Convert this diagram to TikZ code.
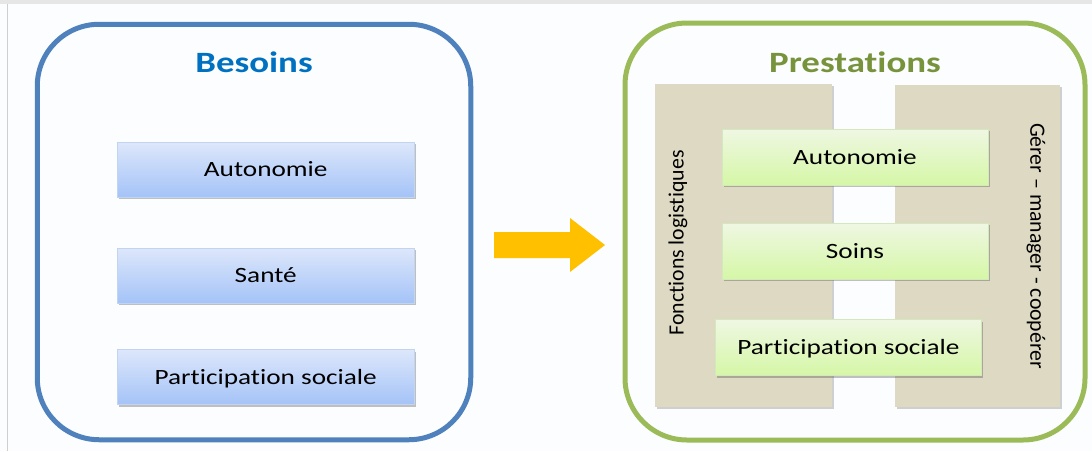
\documentclass[tikz,border=0pt]{standalone}
\usepackage{fontspec}
\usepackage{graphicx}
\setmainfont{Carlito}[Ligatures={NoCommon}]
\usetikzlibrary{shadows}
\definecolor{bgc}{HTML}{FCFDFE}
\definecolor{edgegray}{HTML}{E6E6E6}
\definecolor{edgeline}{HTML}{CFCFCF}
\definecolor{blueF}{HTML}{4F81BD}
\definecolor{greenF}{HTML}{9BBB59}
\definecolor{titleB}{HTML}{0070C0}
\definecolor{titleG}{HTML}{77933C}
\definecolor{tan}{HTML}{DDD9C3}
\definecolor{arrowc}{HTML}{FFC000}
\definecolor{bTop}{HTML}{DDE7FB}
\definecolor{bBot}{HTML}{A4C3F7}
\definecolor{bEdge}{HTML}{C3D4F2}
\definecolor{gTop}{HTML}{EFF7E3}
\definecolor{gBot}{HTML}{D5F7A6}
\definecolor{gEdge}{HTML}{D3E8BC}
\newcommand\sx[1]{\scalebox{1.25}[1]{#1}}
\begin{document}
\begin{tikzpicture}[x=1pt,y=-1pt,
  frame/.style={draw, line width=5pt, rounded corners=62pt, inner sep=0pt},
  ttl/.style={font=\bfseries\fontsize{29.5}{34}\selectfont, text height=19pt, text depth=0pt, inner sep=0pt},
  lbl/.style={font=\fontsize{21.8}{26}\selectfont, text=black, text height=14pt, text depth=0pt, inner sep=0pt},
  vlbl/.style={font=\fontsize{21.8}{26}\selectfont, text=black, inner sep=0pt},
  bbox/.style={lbl, draw=bEdge, line width=0.6pt, top color=bTop, bottom color=bBot,
    minimum width=296.5pt, minimum height=55pt,
    drop shadow={shadow xshift=1.5pt, shadow yshift=-2pt, opacity=0.35, fill=black!70}},
  gbox/.style={lbl, draw=gEdge, line width=0.6pt, top color=gTop, bottom color=gBot,
    minimum width=266pt, minimum height=56pt,
    drop shadow={shadow xshift=1.5pt, shadow yshift=-2pt, opacity=0.35, fill=black!70}},
  col/.style={fill=tan, inner sep=0pt,
    drop shadow={shadow xshift=1.5pt, shadow yshift=-2pt, opacity=0.3, fill=black!60}}
]
\useasboundingbox (0,0) rectangle (1092,451);
% background
\fill[bgc] (0,0) rectangle (1092,451);
\fill[edgegray] (0,0) rectangle (1092,4);
\draw[edgeline, line width=1pt] (7,4) -- (7,451);

% left frame
\node[frame, draw=blueF, minimum width=433.5pt, minimum height=415.5pt] (besoinsF) at (254,232) {};
\node[ttl, text=titleB] (besoinsT) at (254,63) {\sx{Besoins}};
\node[bbox] (bAuto) at (265.75,169.5) {\sx{Autonomie}};
\node[bbox] (bSante) at (265.75,275.5) {\sx{Santé}};
\node[bbox] (bPart) at (265.75,377) {\sx{Participation sociale}};

% arrow
\coordinate (arrS) at (494,245);
\fill[arrowc] (arrS) ++(0,-13) -- ++(76,0) -- ++(0,-14) -- (605,245) -- (570,272) -- (570,258) -- (494,258) -- cycle;

% right frame
\node[frame, draw=greenF, minimum width=460pt, minimum height=417pt] (prestF) at (855,231.5) {};
\node[ttl, text=titleG] (prestT) at (855,62.5) {\sx{Prestations}};
\node[col, minimum width=177pt, minimum height=323pt] (colL) at (743.5,245.5) {};
\node[col, minimum width=165pt, minimum height=322pt] (colR) at (977.5,246) {};
\node[vlbl, rotate=90] (logi) at (678,243) {Fonctions logistiques};
\node[vlbl, rotate=-90] (gerer) at (1036,246) {Gérer – manager - coopérer};
\node[gbox] (gAuto) at (855,157) {\sx{Autonomie}};
\node[gbox] (gSoins) at (855,251) {\sx{Soins}};
\node[gbox] (gPart) at (848.5,347.5) {\sx{Participation sociale}};
\end{tikzpicture}
\end{document}
